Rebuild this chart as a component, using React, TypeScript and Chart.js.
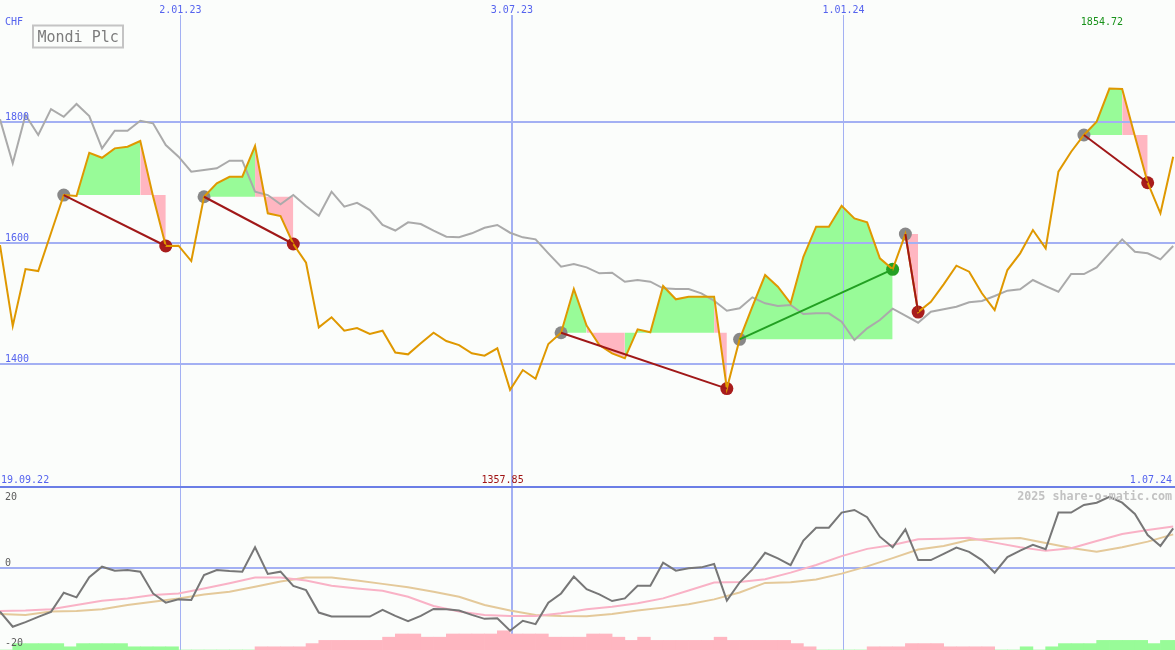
import React, { useEffect, useRef } from 'react';
import { Chart, registerables } from 'chart.js';

Chart.register(...registerables);

// ---------------- data ----------------
const FIRST_WEEK = '2022-09-25';
const LAST_DAY = '2024-07-01';
const rangeStartLabel = '19.09.22';
const rangeEndLabel = '1.07.24';
const gridDates = ['2023-01-02', '2023-07-03', '2024-01-01'];
const gridDateLabels = ['2.01.23', '3.07.23', '1.01.24'];
const priceTicks = [1400, 1600, 1800];
const oscTicks = [20, 0, -20];
const currency = 'CHF';
const title = 'Mondi Plc';
const credit = '2025 share-o-matic.com';

// weekly closing prices (CHF)
const price = [
  1596.7, 1463.2, 1557.1, 1553.8, 1616.5, 1679.1, 1677.5, 1748.9, 1740.6, 1756.1,
  1758.8, 1768.2, 1677.0, 1595.1, 1595.6, 1570.3, 1676.3, 1698.4, 1709.3, 1709.3,
  1759.9, 1649.0, 1644.5, 1598.4, 1567.5, 1461.0, 1477.5, 1455.4, 1459.9, 1450.0,
  1455.4, 1419.5, 1416.5, 1434.6, 1452.1, 1438.4, 1431.8, 1418.1, 1414.2, 1426.4,
  1357.85, 1390.6, 1376.3, 1433.5, 1452.1, 1524.2, 1464.0, 1431.8, 1418.1, 1409.9,
  1457.7, 1452.8, 1529.1, 1507.2, 1511.5, 1511.5, 1511.5, 1360.0, 1441.2, 1495.0,
  1547.2, 1528.0, 1500.6, 1577.4, 1626.9, 1626.9, 1661.5, 1640.7, 1634.1, 1574.8,
  1556.6, 1614.8, 1486.2, 1503.2, 1531.9, 1562.6, 1552.7, 1517.1, 1489.5, 1555.5,
  1583.0, 1621.4, 1591.3, 1717.6, 1750.5, 1778.1, 1800.0, 1854.72, 1854.0, 1776.0,
  1699.4, 1649.0, 1742.3,
];

// comparison index (scaled)
const compare = [
  1804, 1731.4, 1811, 1778.1, 1820.9, 1808.2, 1829.2, 1809.4, 1756.1, 1785.2,
  1785.2, 1801.6, 1797.4, 1761.6, 1742.3, 1717.6, 1720.4, 1723.2, 1735.7, 1735.7,
  1684.6, 1679.1, 1663.8, 1679.1, 1661, 1645, 1684.6, 1659.9, 1666.4, 1654.4,
  1629.7, 1620.6, 1634.1, 1631.3, 1620.3, 1610.4, 1609.4, 1616, 1625.2, 1629.7,
  1617, 1609.4, 1606.1, 1583, 1560.9, 1565.4, 1559.9, 1550, 1551, 1536.2,
  1539, 1536.2, 1525.3, 1524.2, 1524.2, 1517.1, 1504.9, 1488.4, 1492.3, 1510.5,
  1500.6, 1496.1, 1497.8, 1482.9, 1484.1, 1484.1, 1470.2, 1440.1, 1459.4, 1473,
  1491.7, 1480.5, 1468.6, 1486.7, 1490.7, 1495, 1502.2, 1504.4, 1512.6, 1521.4,
  1523.7, 1539, 1529.1, 1519.7, 1548.9, 1548.9, 1559.9, 1583, 1606.1, 1585.7,
  1583, 1573.1, 1595.1,
];

// trades: week index of entry and exit
const tradeEntry = [5, 16, 44, 58, 71, 85];
const tradeExit = [13, 23, 57, 70, 72, 90];

// oscillator panel
const oscillator = [
  -13.3, -17.9, -16.5, -14.9, -13.4, -7.6, -9.0, -2.9, 0.3, -0.9,
  -0.7, -1.2, -7.8, -10.6, -9.6, -9.8, -2.2, -0.7, -1.0, -1.2,
  6.2, -1.9, -1.2, -5.5, -6.8, -13.6, -14.8, -14.8, -14.8, -14.8,
  -12.8, -14.6, -16.2, -14.6, -12.5, -12.6, -13.0, -14.3, -15.5, -15.3,
  -19.1, -16.1, -17.1, -10.6, -7.8, -2.7, -6.5, -8.1, -10.1, -9.3,
  -5.5, -5.5, 1.5, -0.9, -0.2, 0.1, 1.1, -10.0, -4.5, -0.5,
  4.5, 2.8, 0.8, 8.2, 12.1, 12.1, 16.7, 17.5, 15.3, 9.4,
  6.2, 11.6, 2.3, 2.3, 4.2, 6.1, 4.8, 2.3, -1.5, 3.2,
  5.2, 6.9, 5.6, 16.7, 16.7, 19.0, 19.7, 21.5, 19.7, 16.3,
  9.9, 6.6, 11.9,
];
// smooth averages, read every second week (weeks 0, 2, 4, ... 92)
const oscAverageA = [
  -13.1, -13.0, -12.6, -11.3, -10.0, -9.3, -8.3, -7.8, -6.3, -4.7,
  -3.0, -3.0, -3.9, -5.5, -6.3, -7.0, -8.8, -11.6, -13.3, -14.3,
  -14.6, -14.6, -13.8, -12.6, -11.8, -10.8, -9.3, -6.9, -4.5, -4.3,
  -3.5, -1.5, 0.8, 3.5, 5.7, 6.9, 8.6, 8.8, 9.1, 7.6,
  6.2, 5.1, 5.9, 8.1, 10.2, 11.4, 12.5,
];
const oscAverageB = [
  -14.0, -14.3, -13.3, -13.1, -12.6, -11.3, -10.3, -9.3, -8.1, -7.3,
  -5.8, -4.2, -3.0, -3.0, -3.9, -4.9, -5.9, -7.3, -8.8, -11.3,
  -13.0, -14.3, -14.6, -14.7, -14.0, -13.0, -12.1, -11.1, -9.6, -7.5,
  -4.6, -4.4, -3.6, -1.8, 0.4, 2.9, 5.5, 6.6, 8.4, 8.8,
  9.0, 7.5, 6.0, 4.8, 6.2, 7.9, 10.1,
];
// histogram (positive = green, negative = pink)
const histogram = [
  0, 2, 2, 2, 2, 1, 2, 2, 2, 2,
  1, 1, 1, 1, 0, 0, 0, 0, 0, 0,
  -1, -1, -1, -1, -2, -3, -3, -3, -3, -3,
  -4, -5, -5, -4, -4, -5, -5, -5, -5, -6,
  -5, -5, -5, -4, -4, -4, -5, -5, -4, -3,
  -4, -3, -3, -3, -3, -3, -4, -3, -3, -3,
  -3, -3, -2, -1, 0, 0, 0, 0, -1, -1,
  -1, -2, -2, -2, -1, -1, -1, -1, 0, 0,
  1, 0, 1, 2, 2, 2, 3, 3, 3, 3,
  2, 3, 3,
];

// ---------------- style ----------------
const W = 1175;
const TOP_H = 488;
const BOT_H = 162;
const BG = '#fbfdfb';
const GRID = '#a3b0f3';
const SEPARATOR = '#6b7ee6';
const BLUE_TEXT = '#5563ee';
const ORANGE = '#df9800';
const GRAY_LINE = '#aaaaaa';
const GREEN_FILL = '#98fb98';
const PINK_FILL = '#ffb6c1';
const ENTRY_DOT = '#888888';
const LOSS_DOT = '#a81c1c';
const WIN_DOT = '#24a024';
const LOSS_LINE = '#a01818';
const WIN_LINE = '#22a022';
const FONT = '10px "DejaVu Sans Mono", monospace';
const PRICE_MIN = 1196.1;
const PRICE_MAX = 2000.7;
const OSC_MIN = -24.94;
const OSC_MAX = 24.15;
const HIST_MAX = 50.6;
const EXTREME_SHIFT = -7.5;

const DAY = 86400000;
const weekOf = (d: string) => (Date.parse(d) - Date.parse(FIRST_WEEK)) / (7 * DAY);
const X_MAX = weekOf(LAST_DAY);

function txt(ctx: CanvasRenderingContext2D, s: string, x: number, y: number, color: string, font = FONT, align: CanvasTextAlign = 'left') {
  ctx.save();
  ctx.font = font;
  ctx.fillStyle = color;
  ctx.textAlign = align;
  ctx.textBaseline = 'alphabetic';
  ctx.fillText(s, x, y);
  ctx.restore();
}

function vLines(chart: any, top: number) {
  const ctx = chart.ctx as CanvasRenderingContext2D;
  const sx = chart.scales.x;
  const widths = [1, 2, 1];
  ctx.save();
  ctx.strokeStyle = GRID;
  gridDates.forEach((d, i) => {
    const w = widths[i];
    const x = Math.round(sx.getPixelForValue(weekOf(d))) + (w % 2 ? 0.5 : 0);
    ctx.lineWidth = w;
    ctx.beginPath();
    ctx.moveTo(x, top);
    ctx.lineTo(x, chart.chartArea.bottom);
    ctx.stroke();
  });
  ctx.restore();
}

function hLine(chart: any, y: number) {
  const ctx = chart.ctx as CanvasRenderingContext2D;
  ctx.save();
  ctx.strokeStyle = GRID;
  ctx.lineWidth = 2;
  ctx.beginPath();
  ctx.moveTo(0, Math.round(y));
  ctx.lineTo(W, Math.round(y));
  ctx.stroke();
  ctx.restore();
}

const topDecor = {
  id: 'topDecor',
  beforeDatasetsDraw(chart: any) {
    const sy = chart.scales.y;
    priceTicks.forEach((v) => hLine(chart, sy.getPixelForValue(v)));
    vLines(chart, 15);
  },
  afterDatasetsDraw(chart: any) {
    const ctx = chart.ctx as CanvasRenderingContext2D;
    const sx = chart.scales.x;
    const sy = chart.scales.y;
    priceTicks.forEach((v) => txt(ctx, String(v), 5, Math.round(sy.getPixelForValue(v)) - 2, BLUE_TEXT));
    txt(ctx, currency, 5, 25, BLUE_TEXT);
    gridDates.forEach((d, i) => txt(ctx, gridDateLabels[i], sx.getPixelForValue(weekOf(d)), 12.5, BLUE_TEXT, FONT, 'center'));
    // extremes
    const maxV = Math.max(...price);
    const minV = Math.min(...price);
    const iMax = price.indexOf(maxV);
    const iMin = price.indexOf(minV);
    txt(ctx, maxV.toFixed(2), sx.getPixelForValue(iMax) + EXTREME_SHIFT, 25, '#18921a', FONT, 'center');
    txt(ctx, minV.toFixed(2), sx.getPixelForValue(iMin) + EXTREME_SHIFT, 483, '#a01414', FONT, 'center');
    txt(ctx, rangeStartLabel, 1, 483, BLUE_TEXT);
    txt(ctx, rangeEndLabel, 1172, 483, BLUE_TEXT, FONT, 'right');
    // title box
    ctx.save();
    ctx.strokeStyle = '#c4c4c4';
    ctx.lineWidth = 2;
    ctx.strokeRect(33, 25.5, 90, 22);
    ctx.restore();
    txt(ctx, title, 37.5, 41.7, '#7c7c7c', '15px "DejaVu Sans Mono", monospace');
    // separator
    ctx.save();
    ctx.fillStyle = SEPARATOR;
    ctx.fillRect(0, TOP_H - 2, W, 2);
    ctx.restore();
  },
};

const botDecor = {
  id: 'botDecor',
  beforeDatasetsDraw(chart: any) {
    hLine(chart, chart.scales.y.getPixelForValue(0));
    vLines(chart, 0);
  },
  afterDatasetsDraw(chart: any) {
    const ctx = chart.ctx as CanvasRenderingContext2D;
    const sy = chart.scales.y;
    oscTicks.forEach((v, i) => {
      const last = i === oscTicks.length - 1;
      const y = last ? chart.chartArea.bottom - 4.5 : Math.round(sy.getPixelForValue(v)) - 2;
      txt(ctx, String(v), 5, y, '#5c5c5c');
    });
    txt(ctx, credit, 1172, 12, '#c2c2c2', 'bold 11.7px "DejaVu Sans Mono", monospace', 'right');
  },
};

const baseOptions = {
  responsive: false,
  maintainAspectRatio: false,
  animation: false,
  devicePixelRatio: 1,
  events: [],
  layout: { padding: 0, autoPadding: false },
};

function topConfig(): any {
  const pts = (arr: number[]) => arr.map((y, k) => ({ x: k, y }));
  const fills = tradeEntry.map((e, t) => {
    const ex = tradeExit[t];
    const level = price[e];
    const data = [] as { x: number; y: number }[];
    for (let k = e; k <= ex; k++) data.push({ x: k, y: price[k] });
    return {
      data,
      borderColor: 'rgba(0,0,0,0)',
      borderWidth: 0,
      pointRadius: 0,
      backgroundColor: GREEN_FILL,
      fill: { target: { value: level } },
      segment: {
        backgroundColor: (c: any) => (price[e + c.p1DataIndex] >= level ? GREEN_FILL : PINK_FILL),
      },
      order: 8,
    };
  });
  const tradeLines = tradeEntry.map((e, t) => {
    const ex = tradeExit[t];
    const win = price[ex] > price[e];
    return {
      data: [{ x: e, y: price[e] }, { x: ex, y: price[ex] }],
      borderColor: win ? WIN_LINE : LOSS_LINE,
      borderWidth: 2,
      pointRadius: 0,
      fill: false,
      order: 0,
    };
  });
  const entries = {
    data: tradeEntry.map((e) => ({ x: e, y: price[e] })),
    showLine: false,
    pointRadius: 6.5,
    pointBorderWidth: 0,
    pointBackgroundColor: ENTRY_DOT,
    fill: false,
    order: 3,
  };
  const exits = {
    data: tradeExit.map((ex) => ({ x: ex, y: price[ex] })),
    showLine: false,
    pointRadius: 6.5,
    pointBorderWidth: 0,
    pointBackgroundColor: tradeExit.map((ex, t) => (price[ex] > price[tradeEntry[t]] ? WIN_DOT : LOSS_DOT)),
    fill: false,
    order: 3,
  };
  return {
    type: 'line',
    data: {
      datasets: [
        { data: pts(price), borderColor: ORANGE, borderWidth: 2, pointRadius: 0, fill: false, order: 1 },
        { data: pts(compare), borderColor: GRAY_LINE, borderWidth: 2, pointRadius: 0, fill: false, order: 5 },
        ...tradeLines,
        entries,
        exits,
        ...fills,
      ],
    },
    options: {
      ...baseOptions,
      scales: {
        x: { type: 'linear', display: false, min: 0, max: X_MAX, offset: false },
        y: { type: 'linear', display: false, min: PRICE_MIN, max: PRICE_MAX },
      },
      plugins: {
        legend: { display: false },
        tooltip: { enabled: false },
        filler: { drawTime: 'beforeDatasetsDraw' },
      },
    },
    plugins: [topDecor],
  };
}

function botConfig(): any {
  const even = (arr: number[]) => arr.map((y, i) => ({ x: i * 2, y }));
  return {
    type: 'line',
    data: {
      datasets: [
        { data: oscillator.map((y, k) => ({ x: k, y })), borderColor: '#777777', borderWidth: 2, pointRadius: 0, fill: false, order: 0 },
        { data: even(oscAverageA), borderColor: '#f9b2c6', borderWidth: 2, pointRadius: 0, fill: false, order: 1 },
        { data: even(oscAverageB), borderColor: '#e4c99a', borderWidth: 2, pointRadius: 0, fill: false, order: 2 },
        {
          type: 'bar',
          yAxisID: 'yb',
          data: histogram.map((v, k) => ({ x: k + 0.5, y: Math.abs(v) })),
          backgroundColor: histogram.map((v) => (v >= 0 ? GREEN_FILL : PINK_FILL)),
          borderWidth: 0,
          barPercentage: 1,
          categoryPercentage: 1,
          order: 6,
        },
      ],
    },
    options: {
      ...baseOptions,
      scales: {
        x: { type: 'linear', display: false, min: 0, max: X_MAX, offset: false },
        y: { type: 'linear', display: false, min: OSC_MIN, max: OSC_MAX },
        yb: { type: 'linear', display: false, min: 0, max: HIST_MAX },
      },
      plugins: {
        legend: { display: false },
        tooltip: { enabled: false },
      },
    },
    plugins: [botDecor],
  };
}

export default function App() {
  const topRef = useRef<HTMLCanvasElement>(null);
  const botRef = useRef<HTMLCanvasElement>(null);
  useEffect(() => {
    document.body.style.margin = '0';
    document.body.style.background = BG;
    const top = new Chart(topRef.current as HTMLCanvasElement, topConfig());
    const bot = new Chart(botRef.current as HTMLCanvasElement, botConfig());
    return () => {
      top.destroy();
      bot.destroy();
    };
  }, []);
  return (
    <div style={{ width: W, height: TOP_H + BOT_H, background: BG }}>
      <canvas ref={topRef} width={W} height={TOP_H} style={{ display: 'block' }} />
      <canvas ref={botRef} width={W} height={BOT_H} style={{ display: 'block' }} />
    </div>
  );
}
